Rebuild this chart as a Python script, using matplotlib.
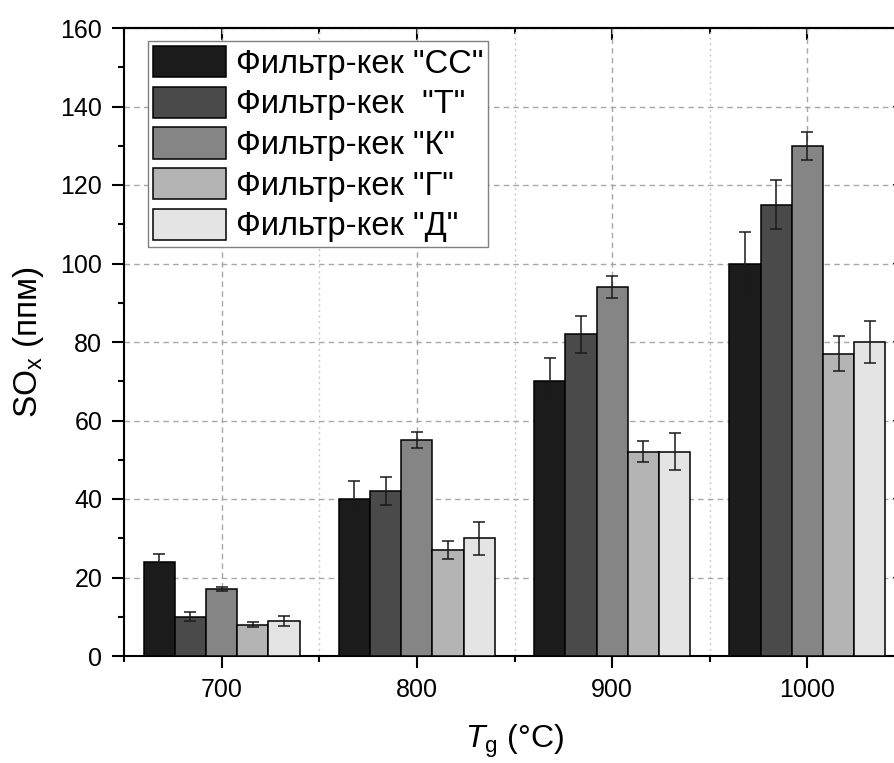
import matplotlib
matplotlib.use("Agg")
import matplotlib.pyplot as plt
import numpy as np
from matplotlib.ticker import MultipleLocator

plt.rcParams['font.family'] = ['Liberation Sans', 'DejaVu Sans']
plt.rcParams['mathtext.fontset'] = 'custom'
plt.rcParams['mathtext.rm'] = 'Liberation Sans'
plt.rcParams['mathtext.it'] = 'Liberation Sans:italic'

temperatures = [700, 800, 900, 1000]
series_names = ['Фильтр-кек "СС"', 'Фильтр-кек  "Т"', 'Фильтр-кек "К"',
                'Фильтр-кек "Г"', 'Фильтр-кек "Д"']
values_cc = [24, 40, 70, 100]
values_t = [10, 42, 82, 115]
values_k = [17, 55, 94, 130]
values_g = [8, 27, 52, 77]
values_d = [9, 30, 52, 80]
errors_cc = [2.0, 4.5, 6.0, 7.9]
errors_t = [1.2, 3.6, 4.7, 6.2]
errors_k = [0.5, 2.1, 2.7, 3.6]
errors_g = [0.7, 2.3, 2.7, 4.5]
errors_d = [1.3, 4.2, 4.7, 5.3]
colors = ['#1b1b1b', '#4a4a4a', '#858585', '#b4b4b4', '#e4e4e4']

all_values = [values_cc, values_t, values_k, values_g, values_d]
all_errors = [errors_cc, errors_t, errors_k, errors_g, errors_d]

W, H = 894, 763
fig = plt.figure(figsize=(W / 100, H / 100), dpi=100)
ax = fig.add_axes([124 / W, (H - 656) / H, (905 - 124) / W, 628 / H])

bar_w = 16
x = np.array(temperatures, dtype=float)
for i, (vals, errs, c, name) in enumerate(zip(all_values, all_errors, colors, series_names)):
    pos = x + (i - 2) * bar_w
    ax.bar(pos, vals, width=bar_w, color=c, edgecolor='black', linewidth=1.1,
           label=name, zorder=3)
    ax.errorbar(pos, vals, yerr=errs, fmt='none', ecolor='#1a1a1a', elinewidth=1.1,
                capsize=4.5, capthick=1.1, zorder=4)

ax.set_xlim(650, 1050)
ax.set_ylim(0, 160)
ax.xaxis.set_major_locator(MultipleLocator(100))
ax.xaxis.set_minor_locator(MultipleLocator(50))
ax.yaxis.set_major_locator(MultipleLocator(20))
ax.yaxis.set_minor_locator(MultipleLocator(10))

ax.grid(which='major', axis='both', linestyle=(0, (4, 3)), color='#a8a8a8', linewidth=1.0, zorder=0)
ax.grid(which='minor', axis='x', linestyle=(0, (1.5, 2.5)), color='#c8c8c8', linewidth=1.0, zorder=0)
ax.set_axisbelow(True)

for s in ax.spines.values():
    s.set_linewidth(1.5)

ax.tick_params(which='major', direction='out', length=8.6, width=1.5, labelsize=18, pad=7)
ax.tick_params(which='minor', direction='out', length=4.5, width=1.5)
ax.tick_params(top=False, right=False, which='both')

secx = ax.secondary_xaxis('top')
secx.xaxis.set_major_locator(MultipleLocator(100))
secx.xaxis.set_minor_locator(MultipleLocator(50))
secx.tick_params(which='major', direction='in', length=8.6, width=1.5, labeltop=False)
secx.tick_params(which='minor', direction='in', length=4.5, width=1.5)
secx.spines['top'].set_linewidth(1.5)
secy = ax.secondary_yaxis('right')
secy.yaxis.set_major_locator(MultipleLocator(20))
secy.yaxis.set_minor_locator(MultipleLocator(10))
secy.tick_params(which='major', direction='in', length=8.6, width=1.5, labelright=False)
secy.tick_params(which='minor', direction='in', length=4.5, width=1.5)
secy.spines['right'].set_linewidth(1.5)

ax.set_ylabel('SO$_\\mathregular{x}$ (ппм)', fontsize=24)
ax.yaxis.set_label_coords(-0.1, 0.5)
ax.set_xlabel('$T_\\mathregular{g}$ (°C)', fontsize=23)
ax.xaxis.set_label_coords(0.5, -0.106)

leg = ax.legend(loc='upper left', bbox_to_anchor=(0.031, 0.979), fontsize=23.5,
                frameon=True, fancybox=False, edgecolor='#808080', framealpha=1,
                handlelength=2.24, handleheight=1.1, labelspacing=0.21,
                handletextpad=0.3, borderpad=0.15, borderaxespad=0)
leg.get_frame().set_linewidth(1.0)
leg.set_zorder(10)

fig.savefig('out.png', dpi=100)
